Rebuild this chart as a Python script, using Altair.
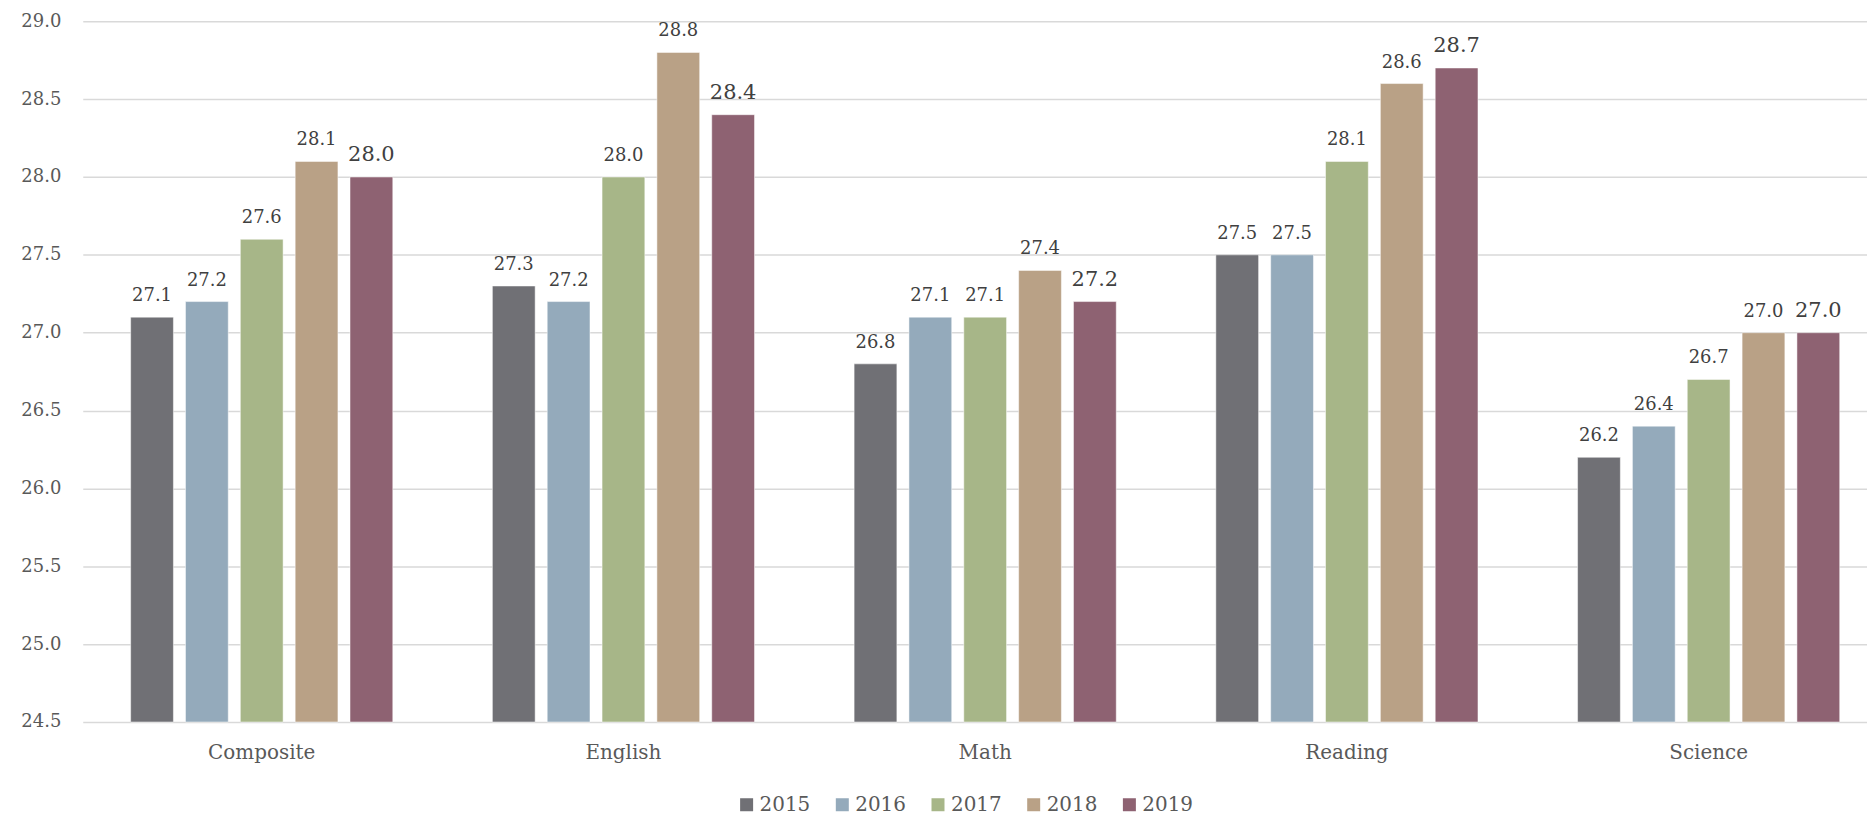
import altair as alt
import pandas as pd

categories = ["Composite", "English", "Math", "Reading", "Science"]
years = ["2015", "2016", "2017", "2018", "2019"]
scores = {
    "2015": [27.1, 27.3, 26.8, 27.5, 26.2],
    "2016": [27.2, 27.2, 27.1, 27.5, 26.4],
    "2017": [27.6, 28.0, 27.1, 28.1, 26.7],
    "2018": [28.1, 28.8, 27.4, 28.6, 27.0],
    "2019": [28.0, 28.4, 27.2, 28.7, 27.0],
}
colors = ["#707075", "#94aabb", "#a7b688", "#b9a186", "#8e6272"]

rows = []
for y in years:
    for c, v in zip(categories, scores[y]):
        rows.append({"subject": c, "year": y, "score": v})
df = pd.DataFrame(rows)

FONT = "DejaVu Serif"

x = alt.X("subject:N", sort=categories,
          scale=alt.Scale(paddingInner=0.2753, paddingOuter=0.1039, align=0.637),
          axis=alt.Axis(title=None, labelAngle=0, ticks=False, domain=False,
                        labelFont=FONT, labelFontSize=20, labelColor="#595959",
                        labelPadding=21))
xo = alt.XOffset("year:N", sort=years,
                 scale=alt.Scale(paddingInner=0.22, paddingOuter=0))
yenc = alt.Y("score:Q", scale=alt.Scale(domain=[24.5, 29], nice=False, zero=False),
             axis=alt.Axis(title=None, values=[24.5, 25, 25.5, 26, 26.5, 27, 27.5, 28, 28.5, 29],
                           format=".1f", ticks=False, domain=False,
                           gridColor="#d9d9d9", gridWidth=1.5,
                           labelFont=FONT, labelFontSize=18, labelColor="#595959",
                           labelPadding=22))

base = alt.Chart(df)

bars = base.mark_bar(stroke="white", strokeWidth=0.5).encode(
    x=x, xOffset=xo, y=yenc, y2=alt.datum(24.5),
    color=alt.Color("year:N", sort=years,
                    scale=alt.Scale(domain=years, range=colors),
                    legend=alt.Legend(title=None, orient="none", direction="horizontal",
                                      legendX=656, legendY=776,
                                      symbolType="square", symbolSize=170,
                                      symbolStrokeWidth=0,
                                      labelFont=FONT, labelFontSize=20,
                                      labelColor="#595959", columnPadding=22,
                                      symbolOffset=0, labelOffset=3)),
)

labels = base.mark_text(baseline="bottom", dy=-12, font=FONT, color="#404040").encode(
    x=x, xOffset=xo, y=alt.Y("score:Q"),
    text=alt.Text("score:Q", format=".1f"),
    size=alt.condition(alt.datum.year == "2019", alt.value(21), alt.value(18)),
)

chart = alt.layer(bars, labels).properties(
    width=1790, height=703,
    autosize=alt.AutoSizeParams(type="none"),
    padding={"left": 75, "top": 12, "right": 0, "bottom": 97},
).configure_view(stroke=None)

chart.save("out.html", embed_options={"renderer": "svg", "actions": False})
